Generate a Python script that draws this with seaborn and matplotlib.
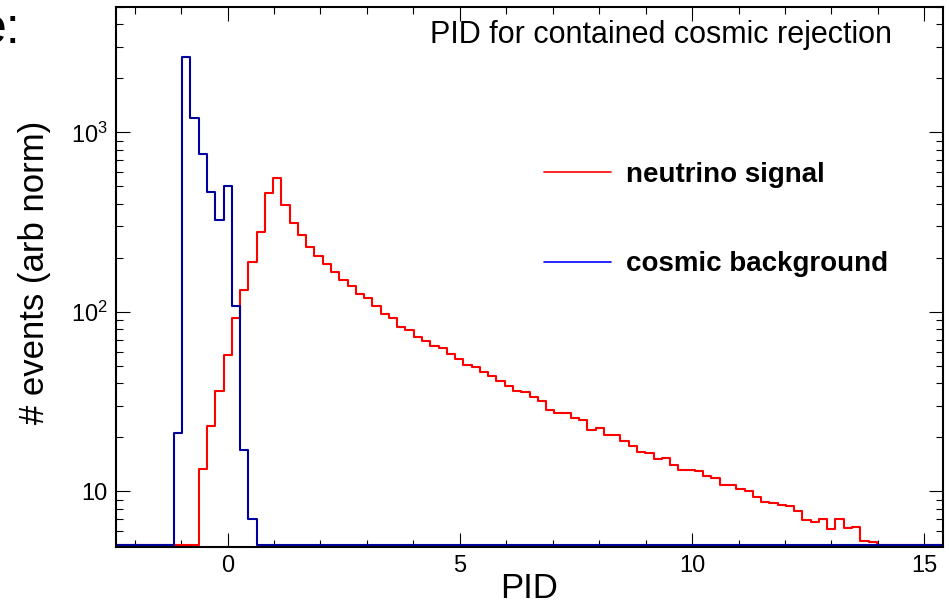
import numpy as np
import pandas as pd
import matplotlib
matplotlib.use('Agg')
import matplotlib.pyplot as plt
import seaborn as sns
from matplotlib.lines import Line2D
from matplotlib.ticker import MultipleLocator, LogLocator, NullFormatter

# binning of the PID histograms (100 equal bins)
X_MIN, X_MAX, N_BINS = -2.4, 15.4, 100
Y_MIN, Y_MAX = 5, 5000

# cosmic background: counts of bins 7..16 (all other bins empty)
cosmic_start = 7
cosmic_counts = [21.2, 2620, 1202, 755, 467, 324, 500, 108, 17.0, 7.05]

# neutrino signal: counts of bins 10..91 (all other bins empty)
nu_start = 10
nu_counts = [13.3, 23.1, 36.3, 57.8, 92.7, 132, 190, 280, 457, 558,
             392, 314, 267, 230, 204, 186, 167, 150, 140, 126,
             119, 108, 97.5, 92.6, 82.9, 79.4, 72.9, 69.3, 64.2, 63.1,
             58.5, 54.8, 50.4, 49.4, 46.3, 44.0, 41.0, 38.5, 36.1, 35.6,
             33.7, 31.8, 28.4, 27.4, 27.2, 25.5, 25.0, 22.0, 22.5, 20.6,
             20.6, 19.1, 17.8, 16.5, 16.3, 15.1, 15.3, 14.1, 13.1, 13.1,
             13.0, 12.2, 11.8, 10.9, 10.9, 10.3, 10.0, 9.34, 8.73, 8.58,
             8.43, 8.26, 7.75, 6.96, 6.76, 7.05, 6.21, 7.0, 6.25, 6.36,
             5.32, 5.21]

labels = ['neutrino signal', 'cosmic background']
c_nu = '#ff0000'
c_cos = '#00009c'

edges = np.linspace(X_MIN, X_MAX, N_BINS + 1)
centers = 0.5 * (edges[:-1] + edges[1:])


def fill_bins(start, vals):
    h = np.zeros(N_BINS)
    h[start:start + len(vals)] = vals
    # empty bins sit on the floor of the log axis, like ROOT draws them
    return np.maximum(h, Y_MIN)


df = pd.DataFrame({'pid': centers,
                   'nu': fill_bins(nu_start, nu_counts),
                   'cos': fill_bins(cosmic_start, cosmic_counts)})

sns.set_style('ticks')
plt.rcParams['font.family'] = ['Liberation Sans', 'DejaVu Sans']
plt.rcParams['mathtext.default'] = 'regular'
for k in ['text.color', 'axes.labelcolor', 'xtick.color', 'ytick.color']:
    plt.rcParams[k] = 'black'

fig = plt.figure(figsize=(9.49, 6.04), dpi=100)
ax = fig.add_axes([116 / 949, 1 - 547 / 604, (943 - 116) / 949, (547 - 7) / 604])

sns.histplot(data=df, x='pid', weights='nu', bins=list(edges), element='step',
             fill=False, color=c_nu, linewidth=1.5, ax=ax)
sns.histplot(data=df, x='pid', weights='cos', bins=list(edges), element='step',
             fill=False, color=c_cos, linewidth=1.5, ax=ax)

ax.set_yscale('log')
ax.set_xlim(X_MIN, X_MAX)
ax.set_ylim(4.9, Y_MAX)

ax.xaxis.set_major_locator(MultipleLocator(5))
ax.xaxis.set_minor_locator(MultipleLocator(1))
ax.set_yticks([10, 100, 1000], labels=['10', '$10^{2}$', '$10^{3}$'])
ax.yaxis.set_minor_locator(LogLocator(base=10, subs=np.arange(2, 10)))
ax.yaxis.set_minor_formatter(NullFormatter())
ax.tick_params(which='both', direction='in', top=True, right=True,
               width=0.8, color='black', labelcolor='black')
ax.tick_params(which='major', length=10, labelsize=17, pad=6)
ax.tick_params(which='minor', length=5)
for sp in ax.spines.values():
    sp.set_linewidth(1.5)
    sp.set_color('black')

ax.set_xlabel('PID', fontsize=25, color='black')
ax.xaxis.set_label_coords(0.5, -0.046)
ax.set_ylabel('# events (arb norm)', fontsize=25, color='black')
ax.yaxis.set_label_coords(-0.078, 0.508)

fig.text(892 / 949, 1 - 43.3 / 604, 'PID for contained cosmic rejection',
         ha='right', va='baseline', fontsize=22, color='black')
# fragment of the slide title cut off at the left edge
fig.text(21 / 949, 1 - 43 / 604, 'e:', ha='right', va='baseline', fontsize=36,
         color='black')

handles = [Line2D([], [], color=c_nu, lw=1.2),
           Line2D([], [], color='#0000ff', lw=1.2)]
leg = ax.legend(handles, labels, loc='center left',
                bbox_to_anchor=(544 / 949, 1 - 219.5 / 604), bbox_transform=fig.transFigure,
                frameon=False, prop={'weight': 'bold', 'size': 20},
                handlelength=2.4, handletextpad=0.55, labelspacing=2.3,
                borderpad=0, borderaxespad=0)
for t in leg.get_texts():
    t.set_color('black')

fig.savefig('out.png', dpi=100)
